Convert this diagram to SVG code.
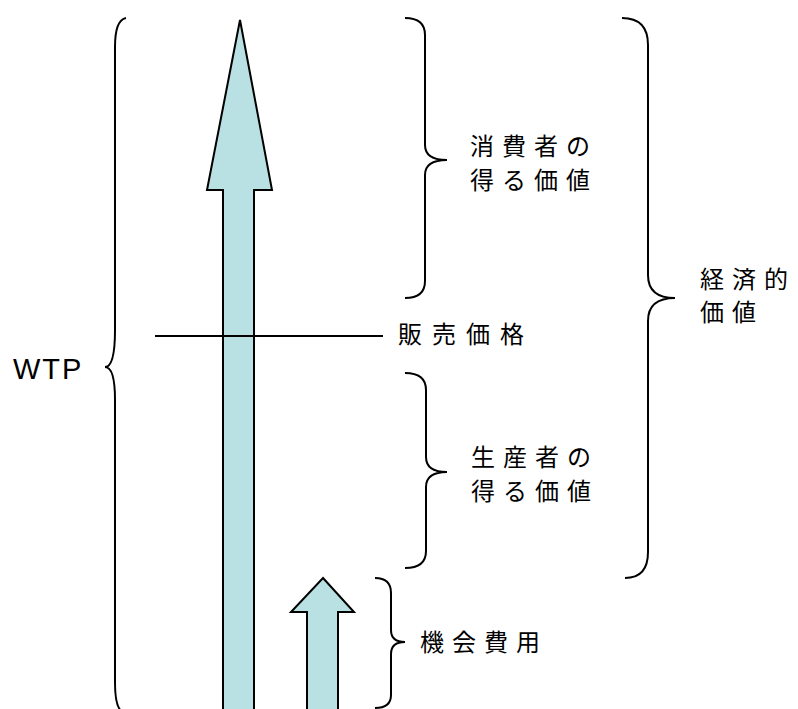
<svg xmlns="http://www.w3.org/2000/svg" width="798" height="709" viewBox="0 0 798 709">
<style>
.arrow{fill:#b9e0e2;stroke:#000;stroke-width:2;stroke-linejoin:miter}
.brace{fill:none;stroke:#000;stroke-width:2}
.jp{font-family:"Noto Sans CJK JP","Noto Sans",sans-serif;font-size:24px;letter-spacing:8px;fill:#000}
.en{font-family:"Liberation Sans",Arial,sans-serif;font-size:29px;letter-spacing:2px;fill:#000}
</style>
<rect width="798" height="709" fill="#fff"/>
<g id="wtp-arrow">
<polygon class="arrow" points="240,20 272,190 254,190 254,712 223,712 223,190 207,190"/>
</g>
<g id="cost-arrow">
<polygon class="arrow" points="323,578 354,612 338,612 338,712 307,712 307,612 291,612"/>
</g>
<g id="connectors">
<line x1="155" y1="336" x2="383" y2="336" stroke="#000" stroke-width="2"/>
<path class="brace" d="M126,18 Q115,20 115,47 L115,330 Q115,367 105,367 Q115,367 115,400 L115,682 Q115,709 123,712"/>
<path class="brace" d="M405,18 Q425,18 425,35 L425,145 Q425,160 447,160 Q425,160 425,175 L425,281 Q425,298 405,298"/>
<path class="brace" d="M405,373 Q426,373 426,390 L426,457 Q426,472 447,472 Q426,472 426,487 L426,551 Q426,568 405,568"/>
<path class="brace" d="M622,18 Q648,18 648,45 L648,275 Q648,298 675,298 Q648,298 648,321 L648,552 Q648,578 625,578"/>
<path class="brace" d="M375,578 Q391,578 391,593 L391,630 Q391,642 405,642 Q391,642 391,654 L391,695 Q391,708 375,708"/>
</g>
<g id="label-wtp"><text class="en" x="13" y="379">WTP</text></g>
<g id="label-consumer"><text class="jp" x="470" y="155">消費者の</text><text class="jp" x="470" y="189">得る価値</text></g>
<g id="label-price"><text class="jp" x="398" y="343" style="letter-spacing:10px">販売価格</text></g>
<g id="label-producer"><text class="jp" x="471" y="466">生産者の</text><text class="jp" x="471" y="500">得る価値</text></g>
<g id="label-economic"><text class="jp" x="700" y="288">経済的</text><text class="jp" x="700" y="321">価値</text></g>
<g id="label-cost"><text class="jp" x="420" y="651">機会費用</text></g>
</svg>
